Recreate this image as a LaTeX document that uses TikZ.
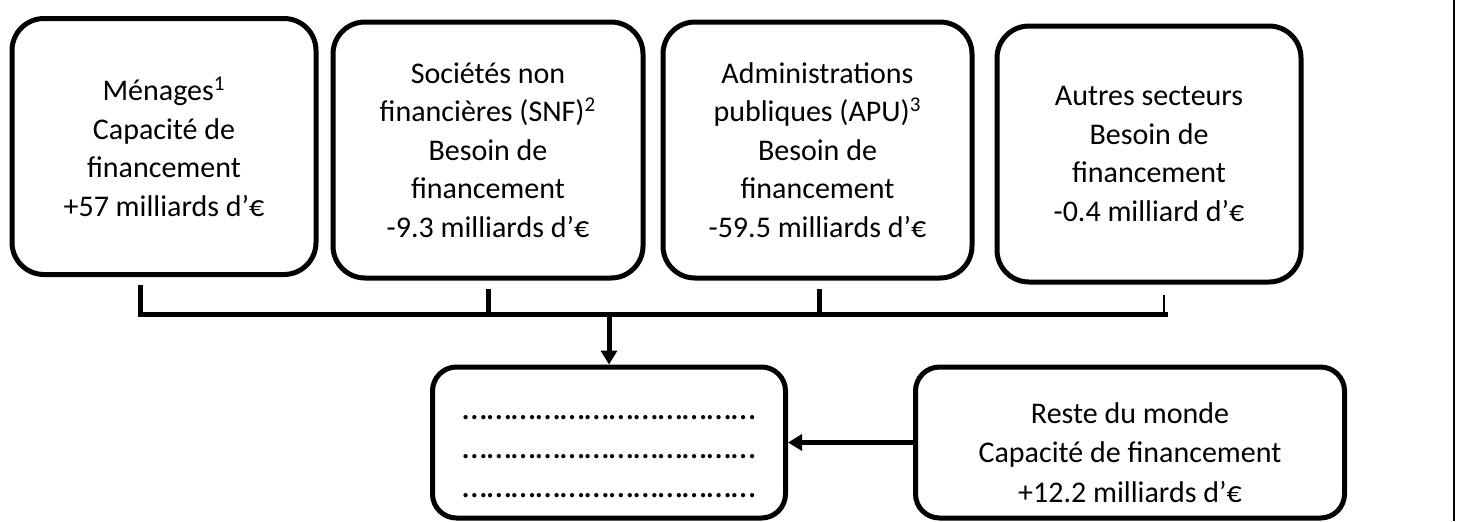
\documentclass[tikz,border=0pt]{standalone}
\usepackage{fontspec}
\setmainfont{Carlito}
\usepackage{tikz}
\usetikzlibrary{arrows.meta}
\newcommand{\troispts}{………}

\begin{document}
\begin{tikzpicture}[x=0.5pt,y=-0.5pt,>={Triangle[length=7pt,width=8pt]},
		secteur/.style={draw,line width=2.5pt,rounded corners=16pt,
			minimum width=152pt,minimum height=128pt,inner sep=0pt,
			align=center,font=\fontsize{15}{19.3}\selectfont},
		cadre/.style={draw,line width=2.5pt,rounded corners=12pt,
			minimum height=75.5pt,inner sep=0pt},
		texte/.style={align=center,font=\fontsize{15}{19.6}\selectfont},
		lien/.style={line width=2.5pt}
		]
		\useasboundingbox (0,0) rectangle (1461,521);
		\node[secteur] (men) at (164,146.5) {Ménages\textsuperscript{1}\\Capacité de\\financement\\+57 milliards d’€};
		\node[secteur,minimum width=155pt] (snf) at (488,150) {Sociétés non\\financières (SNF)\textsuperscript{2}\\Besoin de\\financement\\-9.3 milliards d’€};
		\node[secteur,minimum width=154.5pt] (apu) at (817.5,150) {Administrations\\publiques (APU)\textsuperscript{3}\\Besoin de\\financement\\-59.5 milliards d’€};
		\node[secteur] (autres) at (1149,154) {Autres secteurs\\Besoin de\\financement\\-0.4 milliard d’€};
		\node[cadre,minimum width=176.5pt] (solde) at (609,442.5) {};
		\node[cadre,minimum width=214.5pt] (rdm) at (1130,442.5) {};
		\node[texte,font=\fontsize{17.7}{19.6}\selectfont] (solde-txt) at ([yshift=-7pt]solde.center) {\troispts\troispts\troispts\troispts\\\troispts\troispts\troispts\troispts\\\troispts\troispts\troispts\troispts};
		\node[texte] (rdm-txt) at ([yshift=-5pt]rdm.center) {Reste du monde\\Capacité de financement\\+12.2 milliards d’€};
		\coordinate (bus) at (1168,314);
		\draw[lien] ([xshift=-12pt,yshift=-4pt]men.south) |- (bus);
		\draw[lien] ([yshift=-4pt]snf.south) -- (snf.south |- bus);
		\draw[lien] ([xshift=1pt,yshift=-4pt]apu.south) -- ([xshift=1pt]apu.south |- bus);
		\draw[line width=0.6pt] ([xshift=7.5pt,yshift=-5pt]autres.south) |- (bus);
		\draw[lien,->] (solde.north |- bus) -- (solde.north);
		\draw[lien,->] (rdm.west) -- (solde.east);
		\draw[line width=0.8pt] (1454,0) -- (1454,521);
\end{tikzpicture}
\end{document}
